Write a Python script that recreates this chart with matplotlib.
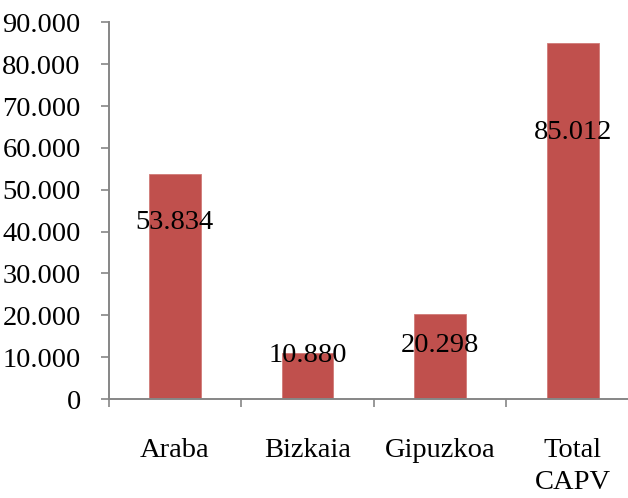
import matplotlib
matplotlib.use("Agg")
import matplotlib.pyplot as plt
from matplotlib.ticker import FuncFormatter, FixedLocator

categories = ["Araba", "Bizkaia", "Gipuzkoa", "Total\nCAPV"]
values = [53834, 10880, 20298, 85012]
value_labels = ["53.834", "10.880", "20.298", "85.012"]
yticks = [0, 10000, 20000, 30000, 40000, 50000, 60000, 70000, 80000, 90000]

# layout: vertical position of value labels (data units)
label_y = [42100, 10500, 12700, 63600]

plt.rcParams['font.family'] = ['Liberation Serif', 'DejaVu Serif']

fig = plt.figure(figsize=(6.28, 4.98), dpi=100)
ax = fig.add_axes([108.5 / 628, (498 - 399) / 498, 530.5 / 628, (399 - 22.4) / 498])

bar_color = "#C0504D"
x = list(range(len(categories)))
ax.bar(x, values, width=0.39, color=bar_color, edgecolor="#D07A77", linewidth=0.6, zorder=2)

for xi, lab, ly in zip(x, value_labels, label_y):
    ax.text(xi, ly, lab, ha="center", va="center", fontsize=20.5, color="black", zorder=3)

ax.set_xlim(-0.5, 3.5)
ax.set_ylim(0, 90000)

def fmt(v, pos):
    v = int(round(v))
    if v == 0:
        return "0"
    return f"{v:,}".replace(",", ".")

ax.yaxis.set_major_locator(FixedLocator(yticks))
ax.yaxis.set_major_formatter(FuncFormatter(fmt))

ax.set_xticks(x)
ax.set_xticklabels(categories, linespacing=1.4)
ax.xaxis.set_minor_locator(FixedLocator([-0.5, 0.5, 1.5, 2.5, 3.5]))

axis_color = "#868686"
for s in ["top", "right"]:
    ax.spines[s].set_visible(False)
for s in ["left", "bottom"]:
    ax.spines[s].set_color(axis_color)
    ax.spines[s].set_linewidth(1.4)

ax.tick_params(axis="y", direction="out", length=6, width=1.2, color=axis_color,
               labelsize=20.5, pad=14)
ax.tick_params(axis="x", which="major", length=0, labelsize=20.5, pad=28)
ax.tick_params(axis="x", which="minor", direction="out", length=6, width=1.2, color=axis_color)

fig.savefig("out.png", dpi=100)
